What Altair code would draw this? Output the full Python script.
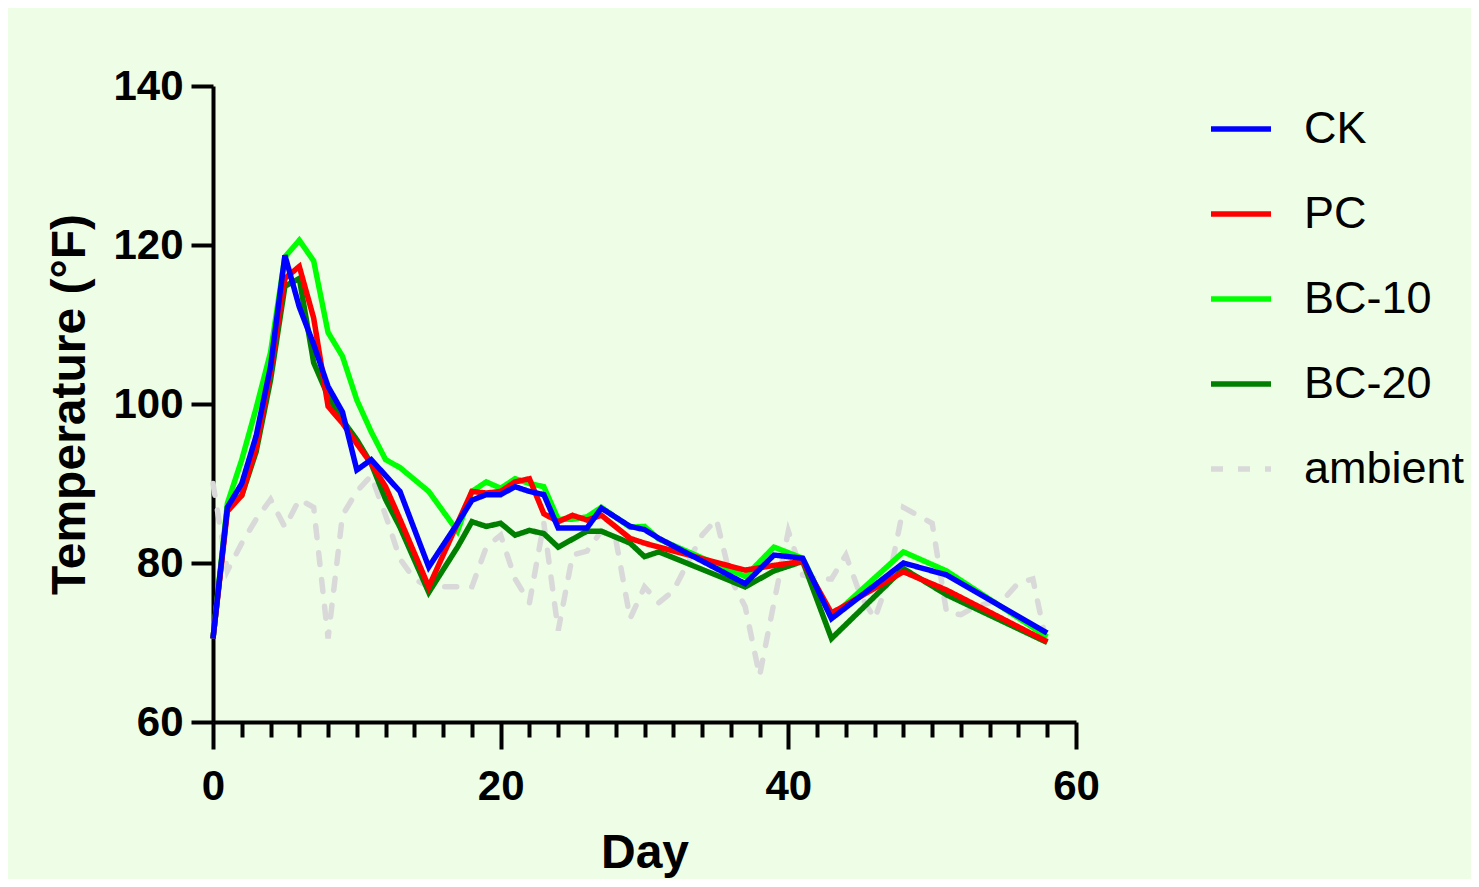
import altair as alt
import pandas as pd

# ---- data ----
days = [0, 1, 2, 3, 4, 5, 6, 7, 8, 9, 10, 11, 12, 13, 15, 17, 18, 19, 20, 21, 22, 23,
        24, 25, 26, 27, 29, 30, 31, 37, 39, 41, 43, 48, 51, 58]

ck = [70.5, 87, 90, 96, 104.7, 118.7, 112.2, 107.5, 102.2, 99, 91.7, 93, 91, 89, 79.5,
      85, 87.9, 88.6, 88.6, 89.6, 89, 88.6, 84.4, 84.4, 84.4, 86.9, 84.6, 84.2, 83.1,
      77.4, 81, 80.6, 73, 80, 78.5, 71.2]

pc = [70.5, 86.5, 88.5, 94.5, 104, 115.8, 117.3, 110.8, 99.7, 97.6, 95, 92.5, 89.6, 85.5,
      77, 85, 89, 88.8, 89, 90.2, 90.6, 86.2, 85.2, 86, 85.4, 86, 83.1, 82.5, 82,
      79.1, 79.7, 80.2, 73.7, 78.9, 76.6, 70.1]

bc10 = [70.5, 87.5, 93, 99.5, 106.5, 118.5, 120.6, 118, 109, 106, 100.5, 96.5, 93, 92,
        89, 84, 89, 90.2, 89.4, 90.6, 90, 89.6, 85.5, 85.5, 85.8, 87, 84.5, 84.6, 83,
        78.3, 82, 80.6, 73.2, 81.4, 79, 70.7]

bc20 = [70.5, 87, 88.5, 94, 103, 114.8, 115.8, 105.2, 101, 98, 95.5, 92.5, 88, 84.5,
        76.3, 82, 85.2, 84.6, 85, 83.5, 84.1, 83.7, 82, 83, 84, 84, 82.5, 80.8, 81.4,
        77, 79, 80.2, 70.5, 79.3, 76, 70]

amb_days = [0, 1, 2, 3, 4, 5, 6, 7, 8, 9, 10, 11, 12, 13, 14, 15, 16, 17, 18, 19, 20,
            21, 22, 23, 24, 25, 26, 27, 28, 29, 30, 31, 32, 33, 34, 35, 36, 37, 38, 39,
            40, 41, 42, 43, 44, 45, 46, 47, 48, 49, 50, 51, 52, 53, 54, 55, 56, 57, 58]

ambient = [90, 79, 82.5, 85.5, 88, 84.5, 88, 87, 70.5, 86, 89, 91, 86, 80.5, 78, 77, 77,
           77, 77, 82, 83.5, 78, 75, 85, 71.5, 81, 81.5, 84, 83, 73, 77, 75, 76.5, 80,
           83.5, 85.5, 78, 74.5, 65.8, 75, 84, 78.5, 78, 78, 81, 76, 73, 78, 87, 86, 85,
           73.8, 73.5, 74.5, 75, 75.5, 77.5, 78, 69.5]

series_order = ["CK", "PC", "BC-10", "BC-20", "ambient"]
series_colors = ["#0000FF", "#FF0000", "#00FF00", "#007F00", "#D9D9D9"]
series_dashes = [[1, 0], [1, 0], [1, 0], [1, 0], [12, 15]]
draw_order = ["ambient", "BC-20", "BC-10", "PC", "CK"]
x_tick_values = [0, 2, 4, 6, 8, 10, 12, 14, 16, 18, 20, 22, 24, 26, 28, 30, 32, 34, 36,
                 38, 40, 42, 44, 46, 48, 50, 52, 54, 56, 58, 60]
y_tick_values = [60, 80, 100, 120, 140]

rows = []
for name, vals in [("CK", ck), ("PC", pc), ("BC-10", bc10), ("BC-20", bc20)]:
    for d, v in zip(days, vals):
        rows.append({"day": d, "temp": v, "series": name})
for d, v in zip(amb_days, ambient):
    rows.append({"day": d, "temp": v, "series": "ambient"})
df = pd.DataFrame(rows)

FONT = "Liberation Sans"

x_enc = alt.X(
    "day:Q",
    scale=alt.Scale(domain=[0, 60], nice=False, zero=False),
    axis=alt.Axis(
        values=x_tick_values,
        title="Day",
        labelExpr="datum.value % 20 === 0 ? datum.label : ''",
        tickSize={"condition": {"test": "datum.value % 20 === 0", "value": 27}, "value": 15},
        labelPadding=17,
        labelFlush=False,
        titlePadding=22,
    ),
)
y_enc = alt.Y(
    "temp:Q",
    scale=alt.Scale(domain=[60, 140], nice=False, zero=False),
    axis=alt.Axis(
        values=y_tick_values,
        title="Temperature (°F)",
        tickSize=22,
        labelPadding=8,
        titlePadding=18,
    ),
)
legend_def = alt.Legend(orient="none", legendX=995, legendY=10)
color_enc = alt.Color(
    "series:N",
    scale=alt.Scale(domain=series_order, range=series_colors),
    title=None,
    legend=legend_def,
)
dash_enc = alt.StrokeDash(
    "series:N",
    scale=alt.Scale(domain=series_order, range=series_dashes),
    title=None,
    legend=legend_def,
)

layers = []
for s in draw_order:
    cap = "round" if s == "ambient" else "butt"
    layers.append(
        alt.Chart()
        .transform_filter(alt.datum.series == s)
        .mark_line(strokeWidth=5.5, strokeCap=cap, strokeJoin="miter", clip=False)
        .encode(x=x_enc, y=y_enc, color=color_enc, strokeDash=dash_enc)
    )

chart = (
    alt.layer(*layers, data=df)
    .properties(
        width=863,
        height=636,
        padding={"left": 205, "top": 78, "right": 395, "bottom": 157},
        autosize=alt.AutoSizeParams(type="none"),
        background="#EEFEE6",
    )
    .configure_view(stroke=None)
    .configure_axis(
        grid=False,
        domainColor="black",
        domainWidth=4,
        tickColor="black",
        tickWidth=4,
        labelFont=FONT,
        labelFontSize=42,
        labelFontWeight="bold",
        labelColor="black",
        titleFont=FONT,
        titleFontSize=48,
        titleFontWeight="bold",
        titleColor="black",
    )
    .configure_legend(
        symbolType="stroke",
        symbolSize=3600,
        symbolStrokeWidth=5.5,
        labelFont=FONT,
        labelFontSize=45,
        labelColor="black",
        labelOffset=30,
        labelLimit=0,
        rowPadding=29,
        padding=0,
    )
)

chart.save("out.html", embed_options={"renderer": "svg", "actions": False})
